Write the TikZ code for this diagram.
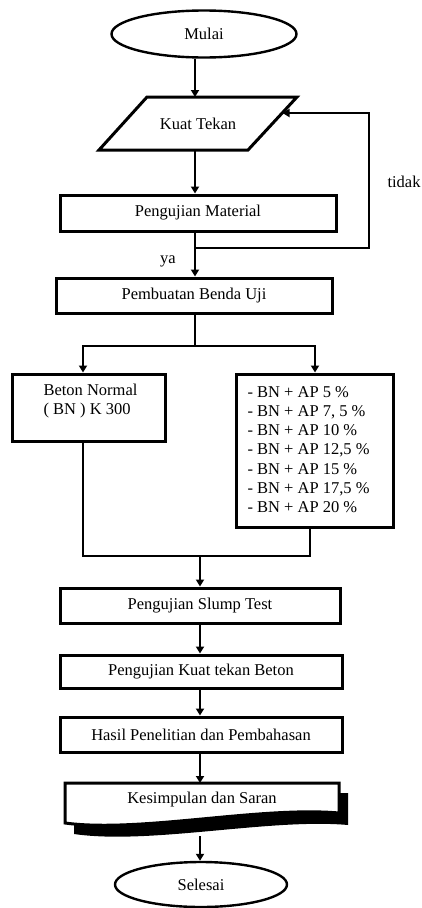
\documentclass[tikz,border=0pt]{standalone}
\usepackage{fontspec}
\setmainfont{Liberation Serif}
\usetikzlibrary{arrows.meta,shapes.geometric}
\begin{document}
\begin{tikzpicture}[x=1pt,y=-1pt,
  box/.style={draw, line width=3pt, rectangle, inner sep=0pt},
  term/.style={draw, ellipse, line width=2.4pt, inner sep=0pt},
  conn/.style={line width=2.4pt},
  arr/.style={conn, -{Triangle[length=7pt,width=8pt]}},
  every node/.style={font=\fontsize{16.5}{19.2}\selectfont}]
\useasboundingbox (0,0) rectangle (422,908);

% terminals
\node[term, minimum width=185pt, minimum height=47pt] (mulai) at (204,34) {Mulai};
\node[term, minimum width=172pt, minimum height=45pt] (selesai) at (201,884.5) {Selesai};

% Kuat Tekan (parallelogram)
\draw[line width=3pt] (147,97) -- (297,97) -- (248,150) -- (99,150) -- cycle;
\node (kt) at (198,123.5) {Kuat Tekan};
\coordinate (kttop) at (195,97);
\coordinate (ktbot) at (195,150);
\coordinate (ktin) at (282.5,113);

% process boxes
\node[box, minimum width=276pt, minimum height=36pt] (mat) at (198,213) {Pengujian Material};
\node[box, minimum width=276pt, minimum height=35pt] (buat) at (194,295.5) {Pembuatan Benda Uji};
\node[box, minimum width=153pt, minimum height=67pt] (bn) at (88.5,407.5) {};
\node[anchor=west, align=left, font=\fontsize{16.5}{18.5}\selectfont] (bntxt) at (40,401) {Beton Normal\\( BN ) K 300};
\node[box, minimum width=157pt, minimum height=153pt] (ap) at (314.5,450.5) {};
\node[anchor=west, align=left] (aptxt) at (244,449.5) {- BN + AP 5 \%\\- BN + AP 7, 5 \%\\- BN + AP 10 \%\\- BN + AP 12,5 \%\\- BN + AP 15 \%\\- BN + AP 17,5 \%\\- BN + AP 20 \%};
\node[box, minimum width=280pt, minimum height=35pt] (slump) at (200,605.5) {Pengujian Slump Test};
\node[box, minimum width=282pt, minimum height=33pt] (ktb) at (201,671.5) {Pengujian Kuat tekan Beton};
\node[box, minimum width=282pt, minimum height=35pt] (hasil) at (201,734.5) {Hasil Penelitian dan Pembahasan};

% document shape
\fill (74,793) -- (348,793) -- (348,825) .. controls (270,818) and (150,845) .. (74,834) -- cycle;
\draw[fill=white, line width=3pt] (65,783) -- (339,783) -- (339,813) .. controls (260,806) and (140,833) .. (65,823) -- cycle;
\node (kes) at (202,800) {Kesimpulan dan Saran};
\coordinate (kestop) at (200,783);
\coordinate (kesbot) at (200,836);

% labels
\node (ya) at (168,261) {ya};
\node (tidak) at (404,182) {tidak};

% connectors
\draw[arr] (mulai.south -| kttop) -- (kttop);
\draw[arr] (ktbot) -- (mat.north -| ktbot);
\draw[arr] (mat.south -| ktbot) -- (buat.north -| ktbot);
\coordinate (fb) at (195,248);
\draw[arr] (fb) -- (369,248) -- (369,113) -- (ktin);
\draw[conn] (buat.south -| ktbot) -- (195,346);
\draw[arr] (195,346) -- (83,346) -- (bn.north -| 83,0);
\draw[arr] (195,346) -- (315,346) -- (ap.north -| 315,0);
\draw[conn] (bn.south -| 83,0) -- (83,556) -- (310,556) -- (ap.south -| 310,0);
\draw[arr] (200,556) -- (slump.north -| 200,0);
\draw[arr] (slump.south -| 200,0) -- (ktb.north -| 200,0);
\draw[arr] (ktb.south -| 200,0) -- (hasil.north -| 200,0);
\draw[arr] (hasil.south -| 200,0) -- (kestop);
\draw[arr] (kesbot) -- (selesai.north -| 200,0);
\end{tikzpicture}
\end{document}
